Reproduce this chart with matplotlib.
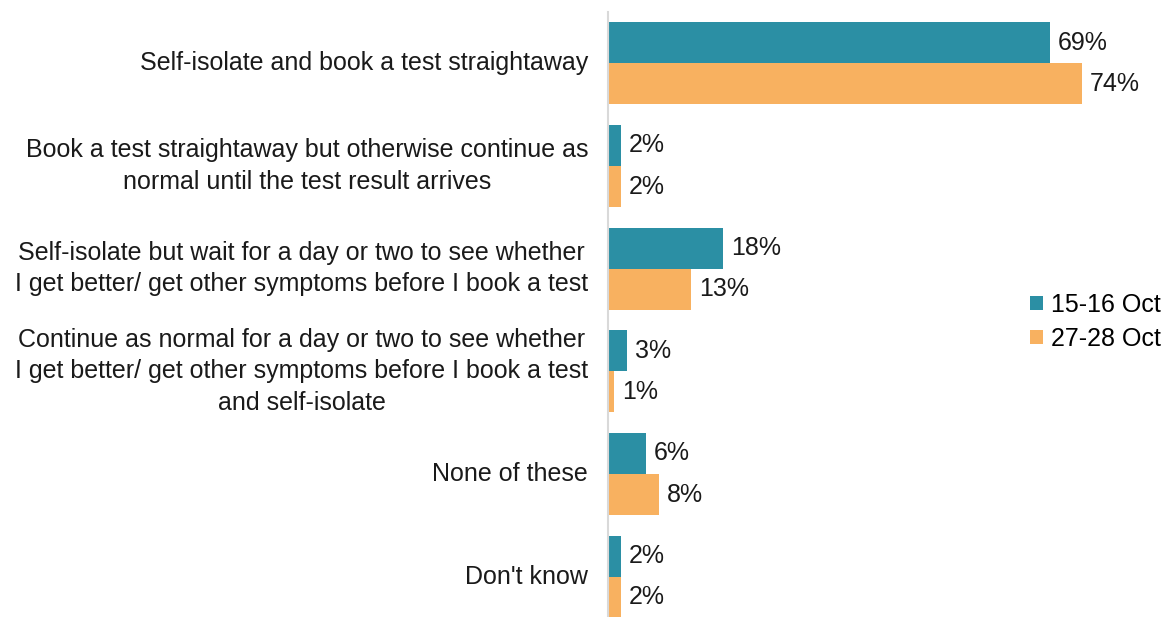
import numpy as np
import matplotlib
matplotlib.use("Agg")
import matplotlib.pyplot as plt

categories = [
    "Self-isolate and book a test straightaway",
    "Book a test straightaway but otherwise continue as\nnormal until the test result arrives",
    "Self-isolate but wait for a day or two to see whether\nI get better/ get other symptoms before I book a test",
    "Continue as normal for a day or two to see whether\nI get better/ get other symptoms before I book a test\nand self-isolate",
    "None of these",
    "Don't know",
]
series_names = ["15-16 Oct", "27-28 Oct"]
oct_15_16 = [69, 2, 18, 3, 6, 2]
oct_27_28 = [74, 2, 13, 1, 8, 2]

colors = ["#2B8FA4", "#F8B160"]
plt.rcParams["font.family"] = ["Liberation Sans", "DejaVu Sans"]

fig = plt.figure(figsize=(11.63, 6.17), dpi=100)
# axes placed in figure pixels: left edge at x=608, top at y=12
W, H = 1163, 617
ax = fig.add_axes([608 / W, 0, (1160 - 608) / W, (617 - 12) / H])

y = np.arange(len(categories))
h = 0.4
for i, (vals, name) in enumerate(zip([oct_15_16, oct_27_28], series_names)):
    pos = y - h / 2 + i * h
    ax.barh(pos, vals, height=h, color=colors[i], label=name)
    for p, v in zip(pos, vals):
        ax.text(v + 1.2, p, f"{v}%", va="center", ha="left", fontsize=18, color="#1a1a1a")

ax.set_xlim(0, 86.25)
ax.set_ylim(5.5 - 11 / 102.6, -0.5)
ax.set_xticks([])
ax.set_yticks([])
for s in ["top", "right", "bottom"]:
    ax.spines[s].set_visible(False)
ax.spines["left"].set_color("#D9D9D9")
ax.spines["left"].set_linewidth(1.5)

for yi, lab in zip(y, categories):
    ax.text(-3.1, yi, lab, ha="right", va="center", multialignment="center",
            fontsize=18, color="#1a1a1a", linespacing=1.4)

ax.legend(loc="center left", bbox_to_anchor=((1030 - 608) / (1160 - 608), 1 - (322 - 12) / 605),
          frameon=False, fontsize=18, handlelength=0.5, handleheight=0.5,
          handletextpad=0.35, labelspacing=0.4, borderaxespad=0, borderpad=0)

fig.savefig("out.png", dpi=100)
